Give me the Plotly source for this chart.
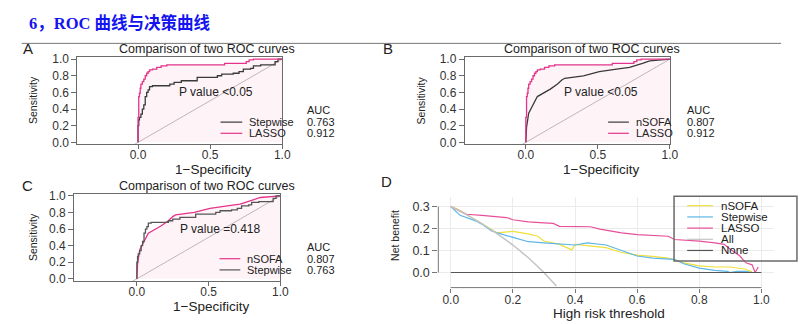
import plotly.graph_objects as go

W, H = 802, 324

# ---------------- data ----------------
# ROC curves (1-Specificity, Sensitivity)
lasso_fpr = [0, 0.005, 0.01, 0.015, 0.02, 0.03, 0.04, 0.05, 0.06, 0.07, 0.08, 0.10, 0.13, 0.16, 0.20, 0.22,
             0.45, 0.60, 0.62, 0.75, 0.77, 0.80, 0.82, 1.0]
lasso_tpr = [0, 0.30, 0.55, 0.59, 0.65, 0.70, 0.73, 0.76, 0.80, 0.83, 0.85, 0.87, 0.88, 0.90, 0.92, 0.93,
             0.93, 0.93, 0.95, 0.95, 0.97, 0.99, 1.0, 1.0]
stepwise_fpr = [0, 0.005, 0.01, 0.02, 0.03, 0.04, 0.05, 0.06, 0.07, 0.08, 0.10, 0.12, 0.22, 0.25, 0.30,
                0.32, 0.41, 0.42, 0.55, 0.58, 0.66, 0.70, 0.73, 0.78, 0.80, 0.85, 0.95, 0.97, 1.0]
stepwise_tpr = [0, 0.20, 0.27, 0.30, 0.34, 0.40, 0.45, 0.55, 0.60, 0.63, 0.67, 0.68, 0.68, 0.70, 0.72,
                0.74, 0.74, 0.78, 0.78, 0.80, 0.82, 0.83, 0.85, 0.88, 0.89, 0.92, 0.93, 0.97, 1.0]
nsofa_fpr = [0, 0.005, 0.02, 0.05, 0.08, 0.17, 0.22, 0.25, 0.27, 0.40, 0.51, 0.63, 0.72, 0.81, 0.86, 1.0]
nsofa_tpr = [0, 0.18, 0.35, 0.45, 0.55, 0.64, 0.70, 0.75, 0.77, 0.80, 0.85, 0.88, 0.90, 0.95, 0.98, 1.0]

auc_stepwise = "0.763"
auc_lasso = "0.912"
auc_nsofa = "0.807"
p_value_labels = ["P value <0.05", "P value <0.05", "P value =0.418"]

# Decision curves (threshold, net benefit)
dca_nsofa_thr = [0, 0.02, 0.05, 0.10, 0.15, 0.20, 0.25, 0.28, 0.30, 0.35, 0.39, 0.40, 0.45, 0.50, 0.55,
                 0.60, 0.65, 0.70, 0.75, 0.80, 0.85, 0.90, 0.95, 0.97]
dca_nsofa_nb = [0.30, 0.29, 0.265, 0.224, 0.18, 0.187, 0.176, 0.165, 0.143, 0.128, 0.103, 0.128, 0.12,
                0.113, 0.091, 0.079, 0.073, 0.065, 0.044, 0.030, 0.025, 0.025, 0.015, 0.003]
dca_step_thr = [0, 0.03, 0.08, 0.10, 0.13, 0.15, 0.20, 0.25, 0.30, 0.35, 0.40, 0.44, 0.50, 0.55, 0.58,
                0.60, 0.65, 0.70, 0.72, 0.75, 0.80, 0.85, 0.89, 0.90, 0.92, 0.95, 0.97]
dca_step_nb = [0.30, 0.26, 0.235, 0.22, 0.19, 0.18, 0.16, 0.14, 0.135, 0.13, 0.125, 0.135, 0.125, 0.10,
               0.085, 0.075, 0.065, 0.06, 0.06, 0.04, 0.02, 0.01, 0.005, 0.0, 0.005, 0.005, 0.0]
dca_lasso_thr = [0, 0.03, 0.05, 0.10, 0.15, 0.18, 0.20, 0.25, 0.30, 0.33, 0.35, 0.40, 0.45, 0.48, 0.55,
                 0.60, 0.70, 0.72, 0.80, 0.85, 0.88, 0.90, 0.93, 0.95, 0.97, 0.98, 0.99]
dca_lasso_nb = [0.30, 0.28, 0.265, 0.26, 0.255, 0.25, 0.24, 0.23, 0.226, 0.223, 0.21, 0.209, 0.208,
                0.197, 0.18, 0.172, 0.165, 0.15, 0.143, 0.135, 0.128, 0.106, 0.076, 0.044, 0.035, 0.0, 0.025]
dca_all_thr = [0, 0.05, 0.10, 0.15, 0.20, 0.25, 0.30, 0.34]
dca_all_nb = [0.30, 0.263, 0.222, 0.176, 0.125, 0.067, 0.0, -0.061]
dca_none_thr = [0, 1.0]
dca_none_nb = [0, 0]

dca_names = ["nSOFA", "Stepwise", "LASSO", "All", "None"]

# ---------------- styling ----------------
PINK = "#e3338a"
DARK = "#3a3a3a"
FONT = "Liberation Sans, Arial, sans-serif"
TXT = "#222222"


def px(x):
    return x / W


def py(y):
    return 1 - y / H


fig = go.Figure()
annotations = []
shapes = []


def ann(text, x, y, size=12, xanchor="center", color=TXT, angle=0, family=FONT, bold=False):
    annotations.append(dict(
        text=("<b>%s</b>" % text) if bold else text, x=px(x), y=py(y), xref="paper", yref="paper",
        xanchor=xanchor, yanchor="middle", showarrow=False, textangle=angle,
        font=dict(size=size, color=color, family=family)))


def seg(x0, y0, x1, y1, color, width=1.2):
    shapes.append(dict(type="line", xref="paper", yref="paper", x0=px(x0), y0=py(y0),
                       x1=px(x1), y1=py(y1), line=dict(color=color, width=width)))


roc_panels = [
    dict(letter="A", lx=28, ax="", xdom=(78.3, 285.5), ydom=(54, 144.3), xr=(-0.42, 1.0),
         yr=(-0.0234, 1.0315), curves=[("Stepwise", stepwise_fpr, stepwise_tpr, DARK, "vh", auc_stepwise),
                                       ("LASSO", lasso_fpr, lasso_tpr, PINK, "vh", auc_lasso)],
         pv=p_value_labels[0], pvx=0.54, leg=(223, 245, 250, 308), rows=(121.5, 133), auchead=109.5,
         sens_x=34, title_x=209, title_y=46, xt_y=170),
    dict(letter="B", lx=392, ax="2", xdom=(470, 677.5), ydom=(54, 144.3), xr=(-0.424, 1.0),
         yr=(-0.0234, 1.0315), curves=[("nSOFA", nsofa_fpr, nsofa_tpr, DARK, "linear", auc_nsofa),
                                       ("LASSO", lasso_fpr, lasso_tpr, PINK, "vh", auc_lasso)],
         pv=p_value_labels[1], pvx=0.52, leg=(615, 636, 641, 693), rows=(121.5, 133), auchead=109.5,
         sens_x=426, title_x=599, title_y=46, xt_y=170),
    dict(letter="C", lx=28, ax="3", xdom=(75, 283.5), ydom=(195, 285.3), xr=(-0.437, 1.0),
         yr=(-0.0304, 1.027), curves=[("nSOFA", nsofa_fpr, nsofa_tpr, PINK, "linear", auc_nsofa),
                                      ("Stepwise", stepwise_fpr, stepwise_tpr, "#555555", "vh", auc_stepwise)],
         pv=p_value_labels[2], pvx=0.58, leg=(222, 243, 248, 308), rows=(262, 273.5), auchead=250,
         sens_x=34, title_x=209, title_y=187, xt_y=311),
]

layout_axes = {}
for p in roc_panels:
    xa, ya = "x" + p["ax"], "y" + p["ax"]
    # diagonal reference line
    fig.add_trace(go.Scatter(x=[-0.1, 1.1], y=[-0.1, 1.1], mode="lines", xaxis=xa, yaxis=ya,
                             line=dict(color="#bdbdbd", width=1), showlegend=False, hoverinfo="skip"))
    # filled area under the pink curve
    for name, fx, fy, col, shp, auc in p["curves"]:
        if col == PINK:
            fig.add_trace(go.Scatter(x=fx, y=fy, mode="lines", xaxis=xa, yaxis=ya, fill="tozeroy",
                                     fillcolor="rgba(236,110,150,0.08)", line=dict(width=0, shape=shp),
                                     showlegend=False, hoverinfo="skip"))
    for name, fx, fy, col, shp, auc in p["curves"]:
        fig.add_trace(go.Scatter(x=fx, y=fy, mode="lines", xaxis=xa, yaxis=ya, name=name,
                                 line=dict(color=col, width=1.3, shape=shp), showlegend=False))
    axis_common = dict(showgrid=False, zeroline=False, showline=True, mirror=True, linecolor="#6a6a6a",
                       linewidth=1, ticks="outside", tickcolor="#6a6a6a",
                       tickfont=dict(size=12, color="#333", family=FONT))
    layout_axes["xaxis" + p["ax"]] = dict(domain=[px(p["xdom"][0]), px(p["xdom"][1])], range=list(p["xr"]),
                                          anchor=ya, tickvals=[0, 0.5, 1], ticktext=["0.0", "0.5", "1.0"],
                                          ticklen=4, ticklabelstandoff=-5, **axis_common)
    layout_axes["yaxis" + p["ax"]] = dict(domain=[py(p["ydom"][1]), py(p["ydom"][0])], range=list(p["yr"]),
                                          anchor=xa, tickvals=[0, 0.2, 0.4, 0.6, 0.8, 1.0],
                                          ticklen=5,
                                          ticktext=["0.0", "0.2", "0.4", "0.6", "0.8", "1.0"], **axis_common)
    # texts
    ann(p["letter"], p["lx"], p["title_y"], size=15)
    ann("Comparison of two ROC curves", p["title_x"], p["title_y"], size=12.5)
    ann("Sensitivity", p["sens_x"], (p["ydom"][0] + p["ydom"][1]) / 2, size=10.5, angle=-90)
    annotations.append(dict(text="1\u2212Specificity", x=0.52, y=py(p["xt_y"]), xref=xa, yref="paper",
                            showarrow=False, xanchor="center", yanchor="middle",
                            font=dict(size=13.5, color=TXT, family=FONT)))
    annotations.append(dict(text=p["pv"], x=p["pvx"], y=0.6, xref=xa, yref=ya, showarrow=False,
                            xanchor="center", yanchor="middle", font=dict(size=12, color=TXT, family=FONT)))
    l0, l1, tx, ax_ = p["leg"]
    ann("AUC", ax_, p["auchead"], size=11, xanchor="left")
    for (name, fx, fy, col, shp, auc), ry in zip(p["curves"], p["rows"]):
        seg(l0, ry, l1, ry, col, 1.2)
        ann(name, tx, ry, size=11, xanchor="left")
        ann(auc, ax_, ry, size=11, xanchor="left")

# ---------------- panel D: decision curves ----------------
dca_series = [
    (dca_nsofa_thr, dca_nsofa_nb, "#f0df3c", 1.2),
    (dca_step_thr, dca_step_nb, "#5db6e6", 1.2),
    (dca_lasso_thr, dca_lasso_nb, "#e6509a", 1.2),
    (dca_all_thr, dca_all_nb, "#c4c4c4", 1.5),
    (dca_none_thr, dca_none_nb, "#555555", 1.2),
]
for (tx_, ny_, col, wd), name in zip(dca_series, dca_names):
    fig.add_trace(go.Scatter(x=tx_, y=ny_, mode="lines", xaxis="x4", yaxis="y4", name=name,
                             line=dict(color=col, width=wd), showlegend=False))

D_X = (443.3, 782.6)
D_Y = (198, 291.7)
layout_axes["xaxis4"] = dict(domain=[px(D_X[0]), px(D_X[1])], range=[-0.04, 1.04], anchor="y4",
                             showgrid=True, gridcolor="#ebebeb", gridwidth=1, zeroline=False, showline=False,
                             ticks="outside", ticklen=4, tickcolor="#777", ticklabelstandoff=-3,
                             tickvals=[0, 0.2, 0.4, 0.6, 0.8, 1.0],
                             ticktext=["0.0", "0.2", "0.4", "0.6", "0.8", "1.0"],
                             tickfont=dict(size=12, color="#333", family=FONT))
layout_axes["yaxis4"] = dict(domain=[py(D_Y[1]), py(D_Y[0])], range=[-0.0686, 0.3456], anchor="x4",
                             showgrid=True, gridcolor="#ebebeb", gridwidth=1, zeroline=False, showline=False,
                             ticks="outside", ticklen=5, tickcolor="#777",
                             tickvals=[0, 0.1, 0.2, 0.3], ticktext=["0.0", "0.1", "0.2", "0.3"],
                             tickfont=dict(size=12.5, color="#333", family=FONT))
# R-style axis lines spanning the tick range only
shapes.append(dict(type="line", xref="x4", yref="y4 domain", x0=0, x1=1, y0=0, y1=0,
                   line=dict(color="#777", width=1)))
shapes.append(dict(type="line", xref="x4 domain", yref="y4", x0=0, x1=0, y0=0, y1=0.3,
                   line=dict(color="#777", width=1)))

ann("D", 391, 183, size=15)
ann("Net benefit", 400, 238, size=10.5, angle=-90)
ann("High risk threshold", 616, 318.5, size=13.5)

# legend box in D
shapes.append(dict(type="rect", xref="paper", yref="paper", x0=px(681.7), x1=px(806), y0=py(264.3),
                   y1=py(197.7), line=dict(color="#6a6a6a", width=1.5), fillcolor="rgba(0,0,0,0)"))
for (tx_, ny_, col, wd), name, ry in zip(dca_series, dca_names, [207.5, 219, 230.5, 242, 253.5]):
    seg(695, ry, 721, ry, col, 1.2)
    ann(name, 727, ry, size=11.5, xanchor="left")

# ---------------- header ----------------
ann("6\uff0cROC 曲线与决策曲线", 27, 20, size=16.5, xanchor="left", color="#1414f0",
    family="Liberation Serif, Noto Sans CJK SC, serif", bold=True)
seg(22, 40.5, 790, 40.5, "#777777", 1)

fig.update_layout(width=W, height=H, margin=dict(l=0, r=0, t=0, b=0), paper_bgcolor="white",
                  plot_bgcolor="white", showlegend=False, annotations=annotations, shapes=shapes,
                  **layout_axes)

fig.write_html("out.html")
